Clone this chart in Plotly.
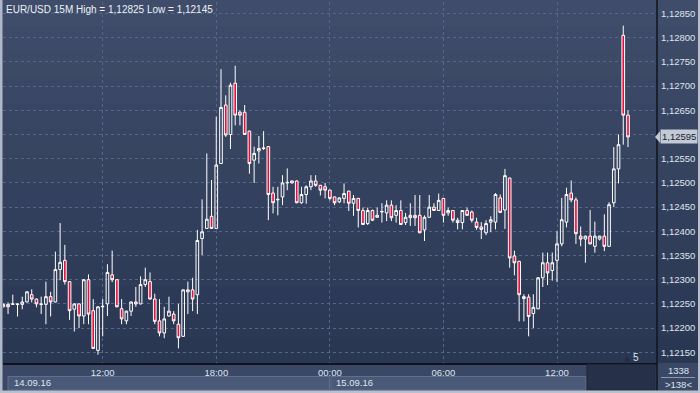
import pandas as pd
import plotly.graph_objects as go

# ---------------- data (EUR/USD 15M) ----------------
start_time = "2016-09-14 06:45"
opens = [1.12244, 1.12249, 1.12249, 1.12250, 1.12249, 1.12254, 1.12269, 1.12260, 1.12250, 1.12249,
         1.12265, 1.12254, 1.12321, 1.12340, 1.12296, 1.12239, 1.12250, 1.12225, 1.12300, 1.12236,
         1.12154, 1.12244, 1.12250, 1.12310, 1.12300, 1.12240, 1.12215, 1.12235, 1.12254, 1.12250,
         1.12290, 1.12296, 1.12260, 1.12215, 1.12190, 1.12225, 1.12229, 1.12208, 1.12183, 1.12275,
         1.12279, 1.12269, 1.12385, 1.12406, 1.12431, 1.12406, 1.12540, 1.12661, 1.12600, 1.12706,
         1.12646, 1.12646, 1.12607, 1.12547, 1.12566, 1.12571, 1.12575, 1.12479, 1.12465, 1.12471,
         1.12500, 1.12504, 1.12504, 1.12459, 1.12476, 1.12492, 1.12504, 1.12495, 1.12492, 1.12485,
         1.12471, 1.12461, 1.12468, 1.12483, 1.12458, 1.12468, 1.12443, 1.12416, 1.12443, 1.12429,
         1.12440, 1.12438, 1.12454, 1.12433, 1.12443, 1.12418, 1.12428, 1.12433, 1.12433, 1.12403,
         1.12429, 1.12450, 1.12443, 1.12468, 1.12438, 1.12443, 1.12423, 1.12418, 1.12443, 1.12440,
         1.12419, 1.12409, 1.12397, 1.12419, 1.12419, 1.12469, 1.12444, 1.12510, 1.12349, 1.12338,
         1.12265, 1.12264, 1.12230, 1.12240, 1.12304, 1.12335, 1.12319, 1.12340, 1.12374, 1.12419,
         1.12479, 1.12465, 1.12390, 1.12384, 1.12390, 1.12369, 1.12384, 1.12390, 1.12369, 1.12459,
         1.12529, 1.12805, 1.12640]
highs = [1.12251, 1.12253, 1.12269, 1.12251, 1.12265, 1.12276, 1.12280, 1.12261, 1.12265, 1.12296,
         1.12275, 1.12358, 1.12417, 1.12372, 1.12297, 1.12251, 1.12251, 1.12301, 1.12311, 1.12260,
         1.12245, 1.12260, 1.12332, 1.12360, 1.12301, 1.12260, 1.12236, 1.12255, 1.12285, 1.12307,
         1.12325, 1.12315, 1.12271, 1.12260, 1.12244, 1.12265, 1.12235, 1.12250, 1.12280, 1.12296,
         1.12304, 1.12403, 1.12466, 1.12561, 1.12506, 1.12637, 1.12735, 1.12681, 1.12707, 1.12742,
         1.12650, 1.12661, 1.12608, 1.12575, 1.12597, 1.12607, 1.12576, 1.12492, 1.12492, 1.12516,
         1.12530, 1.12505, 1.12505, 1.12492, 1.12495, 1.12516, 1.12516, 1.12496, 1.12500, 1.12486,
         1.12472, 1.12470, 1.12499, 1.12484, 1.12475, 1.12469, 1.12449, 1.12449, 1.12445, 1.12449,
         1.12458, 1.12464, 1.12464, 1.12454, 1.12464, 1.12438, 1.12458, 1.12475, 1.12475, 1.12433,
         1.12475, 1.12458, 1.12478, 1.12469, 1.12449, 1.12444, 1.12428, 1.12443, 1.12449, 1.12443,
         1.12428, 1.12419, 1.12423, 1.12431, 1.12479, 1.12476, 1.12529, 1.12511, 1.12360, 1.12339,
         1.12270, 1.12270, 1.12270, 1.12305, 1.12356, 1.12356, 1.12356, 1.12400, 1.12469, 1.12490,
         1.12505, 1.12470, 1.12410, 1.12391, 1.12444, 1.12420, 1.12391, 1.12435, 1.12460, 1.12574,
         1.12600, 1.12825, 1.12650]
lows = [1.12243, 1.12229, 1.12248, 1.12224, 1.12239, 1.12253, 1.12253, 1.12243, 1.12229, 1.12208,
        1.12224, 1.12253, 1.12299, 1.12290, 1.12217, 1.12193, 1.12200, 1.12208, 1.12208, 1.12157,
        1.12145, 1.12183, 1.12225, 1.12295, 1.12243, 1.12208, 1.12208, 1.12225, 1.12244, 1.12249,
        1.12285, 1.12259, 1.12208, 1.12183, 1.12179, 1.12224, 1.12208, 1.12158, 1.12182, 1.12229,
        1.12235, 1.12229, 1.12351, 1.12405, 1.12405, 1.12405, 1.12539, 1.12595, 1.12570, 1.12619,
        1.12619, 1.12599, 1.12519, 1.12500, 1.12540, 1.12568, 1.12423, 1.12437, 1.12433, 1.12454,
        1.12485, 1.12499, 1.12458, 1.12457, 1.12457, 1.12485, 1.12492, 1.12474, 1.12468, 1.12464,
        1.12454, 1.12458, 1.12458, 1.12442, 1.12432, 1.12408, 1.12413, 1.12413, 1.12421, 1.12428,
        1.12418, 1.12421, 1.12421, 1.12418, 1.12413, 1.12413, 1.12411, 1.12411, 1.12396, 1.12380,
        1.12428, 1.12442, 1.12442, 1.12418, 1.12432, 1.12418, 1.12404, 1.12404, 1.12432, 1.12418,
        1.12403, 1.12384, 1.12392, 1.12398, 1.12404, 1.12438, 1.12405, 1.12325, 1.12309, 1.12214,
        1.12214, 1.12183, 1.12200, 1.12239, 1.12285, 1.12289, 1.12298, 1.12295, 1.12369, 1.12408,
        1.12460, 1.12374, 1.12369, 1.12335, 1.12373, 1.12356, 1.12381, 1.12359, 1.12368, 1.12450,
        1.12499, 1.12579, 1.12574]
closes = [1.12249, 1.12244, 1.12250, 1.12249, 1.12254, 1.12275, 1.12260, 1.12250, 1.12249, 1.12265,
          1.12254, 1.12321, 1.12336, 1.12296, 1.12236, 1.12250, 1.12225, 1.12300, 1.12229, 1.12158,
          1.12244, 1.12245, 1.12315, 1.12300, 1.12244, 1.12219, 1.12235, 1.12254, 1.12250, 1.12290,
          1.12300, 1.12260, 1.12214, 1.12190, 1.12219, 1.12235, 1.12215, 1.12180, 1.12279, 1.12279,
          1.12260, 1.12381, 1.12399, 1.12425, 1.12406, 1.12537, 1.12656, 1.12599, 1.12702, 1.12640,
          1.12640, 1.12600, 1.12540, 1.12561, 1.12571, 1.12572, 1.12476, 1.12459, 1.12466, 1.12500,
          1.12501, 1.12500, 1.12459, 1.12476, 1.12492, 1.12504, 1.12495, 1.12485, 1.12485, 1.12468,
          1.12459, 1.12469, 1.12478, 1.12458, 1.12468, 1.12443, 1.12414, 1.12443, 1.12423, 1.12433,
          1.12441, 1.12454, 1.12428, 1.12443, 1.12414, 1.12429, 1.12433, 1.12428, 1.12397, 1.12429,
          1.12450, 1.12443, 1.12464, 1.12433, 1.12443, 1.12423, 1.12418, 1.12443, 1.12433, 1.12423,
          1.12408, 1.12404, 1.12416, 1.12424, 1.12476, 1.12439, 1.12515, 1.12345, 1.12335, 1.12269,
          1.12261, 1.12224, 1.12243, 1.12304, 1.12335, 1.12314, 1.12335, 1.12374, 1.12424, 1.12476,
          1.12465, 1.12395, 1.12384, 1.12390, 1.12374, 1.12390, 1.12390, 1.12369, 1.12455, 1.12529,
          1.12579, 1.12640, 1.12595]

price_ticks = [1.1215, 1.1220, 1.1225, 1.1230, 1.1235, 1.1240, 1.1245, 1.1250,
               1.1255, 1.1260, 1.1265, 1.1270, 1.1275, 1.1280, 1.1285]
time_ticks = ["2016-09-14 12:00", "2016-09-14 18:00", "2016-09-15 00:00",
              "2016-09-15 06:00", "2016-09-15 12:00"]
time_labels = ["12:00", "18:00", "00:00", "06:00", "12:00"]
date_labels = ["14.09.16", "15.09.16"]
symbol = "EUR/USD 15M"
bars_count = "1338"
bars_shown = ">138<"
volume_mark = "5"

times = pd.date_range(start_time, periods=len(opens), freq="15min")

def fmt(v):
    return f"{v:.5f}".replace(".", ",")

last = closes[-1]
tick_text = ["" if abs(v - last) < 0.0001 else fmt(v) for v in price_ticks]

# ---------------- geometry helpers ----------------
W, H = 700, 393
L, R, T, B = 3, 43, 2, 30
PW, PH = W - L - R, H - T - B

def px(xp):
    return (xp - L) / PW

def py(yp):
    return (H - B - yp) / PH

TXT = "#dfe5ef"
FONT = "Liberation Sans, Arial, sans-serif"
FS = 9.5

fig = go.Figure()
fig.add_trace(go.Candlestick(
    x=times, open=opens, high=highs, low=lows, close=closes,
    increasing=dict(line=dict(color="#ffffff", width=1), fillcolor="rgba(0,0,0,0)"),
    decreasing=dict(line=dict(color="#ffffff", width=1), fillcolor="#e0123d"),
    whiskerwidth=0, hoverinfo="skip", showlegend=False,
))

shapes = []
# vertical gradient background (bands)
top_c = (63, 77, 106)
bot_c = (42, 55, 83)
n = 14
y0p, y1p = 0, H - B
for i in range(n):
    f = i / (n - 1)
    c = tuple(int(round(top_c[k] + (bot_c[k] - top_c[k]) * f)) for k in range(3))
    ya = y0p + (y1p - y0p) * i / n
    yb = y0p + (y1p - y0p) * (i + 1) / n
    shapes.append(dict(type="rect", xref="paper", yref="paper", layer="below",
                       x0=px(0), x1=px(W), y0=py(yb), y1=py(ya),
                       fillcolor="rgb(%d,%d,%d)" % c, line=dict(width=0)))

# date row boxes
shapes.append(dict(type="rect", xref="paper", yref="paper", x0=px(8), x1=px(329.5),
                   y0=py(390), y1=py(376.5), fillcolor="#4a5977",
                   line=dict(color="#5f6f8d", width=1)))
shapes.append(dict(type="rect", xref="paper", yref="paper", x0=px(331), x1=px(586),
                   y0=py(390), y1=py(376.5), fillcolor="#4a5977",
                   line=dict(color="#5f6f8d", width=1)))
shapes.append(dict(type="rect", xref="paper", yref="paper", x0=px(587), x1=px(655),
                   y0=py(390), y1=py(364.5), fillcolor="#263149",
                   line=dict(color="#1e2739", width=1)))
# separator line in bottom-right box
shapes.append(dict(type="line", xref="paper", yref="paper", x0=px(661), x1=px(695),
                   y0=py(377.5), y1=py(377.5), line=dict(color="#8a97ad", width=1)))
# vertical black line separating the price scale (down to the bottom)
shapes.append(dict(type="line", xref="paper", yref="paper", x0=px(657), x1=px(657),
                   y0=py(391), y1=py(0), line=dict(color="#10141c", width=1.5)))
# outer light frame
shapes.append(dict(type="rect", xref="paper", yref="paper", x0=px(0), x1=px(2.5),
                   y0=py(H), y1=py(0), fillcolor="#aeb8c7", line=dict(width=0)))
shapes.append(dict(type="rect", xref="paper", yref="paper", x0=px(0), x1=px(W),
                   y0=py(H), y1=py(390.5), fillcolor="#b7c0cc", line=dict(width=0)))
shapes.append(dict(type="rect", xref="paper", yref="paper", x0=px(698), x1=px(W),
                   y0=py(H), y1=py(0), fillcolor="#b7c0cc", line=dict(width=0)))
# current price marker arrow
shapes.append(dict(type="path", xref="paper", yref="y",
                   path="M %f,%f L %f,%f L %f,%f Z" % (px(655), last, px(660), last + 0.00012,
                                                      px(660), last - 0.00012),
                   fillcolor="#c3cad5", line=dict(width=0)))

annotations = [
    dict(text=f"{symbol} High = {fmt(max(highs))} Low = {fmt(min(lows))}",
         xref="paper", yref="paper", x=px(4), y=py(9), xanchor="left", yanchor="middle",
         showarrow=False, font=dict(size=10, color="#eef1f6", family=FONT)),
    dict(text=fmt(last), xref="paper", yref="y", x=px(659.5), y=last,
         xanchor="left", yanchor="middle", showarrow=False, bgcolor="#c3cad5",
         borderpad=1, font=dict(size=FS, color="#1a2030", family=FONT)),
    dict(text=date_labels[0], xref="paper", yref="paper", x=px(12), y=py(383),
         xanchor="left", yanchor="middle", showarrow=False,
         font=dict(size=FS, color=TXT, family=FONT)),
    dict(text=date_labels[1], xref="paper", yref="paper", x=px(334), y=py(383),
         xanchor="left", yanchor="middle", showarrow=False,
         font=dict(size=FS, color=TXT, family=FONT)),
    dict(text=bars_count, xref="paper", yref="paper", x=px(678), y=py(370.5),
         xanchor="center", yanchor="middle", showarrow=False,
         font=dict(size=FS, color=TXT, family=FONT)),
    dict(text=bars_shown, xref="paper", yref="paper", x=px(678), y=py(384),
         xanchor="center", yanchor="middle", showarrow=False,
         font=dict(size=FS, color=TXT, family=FONT)),
    dict(text=volume_mark, xref="paper", yref="paper", x=px(636), y=py(357),
         xanchor="center", yanchor="middle", showarrow=False,
         font=dict(size=FS + 0.5, color=TXT, family=FONT)),
    dict(text="▲", xref="paper", yref="paper", x=px(627), y=py(358),
         xanchor="center", yanchor="middle", showarrow=False,
         font=dict(size=8, color="#232c40", family="DejaVu Sans")),
]

fig.update_layout(
    width=W, height=H,
    margin=dict(l=L, r=R, t=T, b=B),
    paper_bgcolor="#3a4866",
    plot_bgcolor="rgba(0,0,0,0)",
    separators=",.",
    showlegend=False,
    boxgap=0.2,
    font=dict(family=FONT, size=FS, color=TXT),
    shapes=shapes,
    annotations=annotations,
    xaxis=dict(
        type="date",
        range=["2016-09-14 06:43:59", "2016-09-15 17:16:57"],
        rangeslider=dict(visible=False),
        tickvals=time_ticks, ticktext=time_labels,
        showgrid=True, gridcolor="#56668a", griddash="3px,3px", gridwidth=1,
        showline=True, linecolor="#10141c", linewidth=1.5,
        ticks="", tickfont=dict(size=FS, color=TXT, family=FONT),
        zeroline=False, fixedrange=True,
    ),
    yaxis=dict(
        side="right",
        range=[1.121279, 1.128738],
        tickvals=price_ticks, ticktext=tick_text,
        showgrid=True, gridcolor="#56668a", griddash="3px,3px", gridwidth=1,
        showline=False, ticks="", ticklabelstandoff=3,
        tickfont=dict(size=FS, color=TXT, family=FONT),
        zeroline=False, fixedrange=True,
    ),
)

fig.write_html("out.html", config={"displayModeBar": False},
               post_script="document.body.style.margin='0';document.body.style.overflow='hidden';")
